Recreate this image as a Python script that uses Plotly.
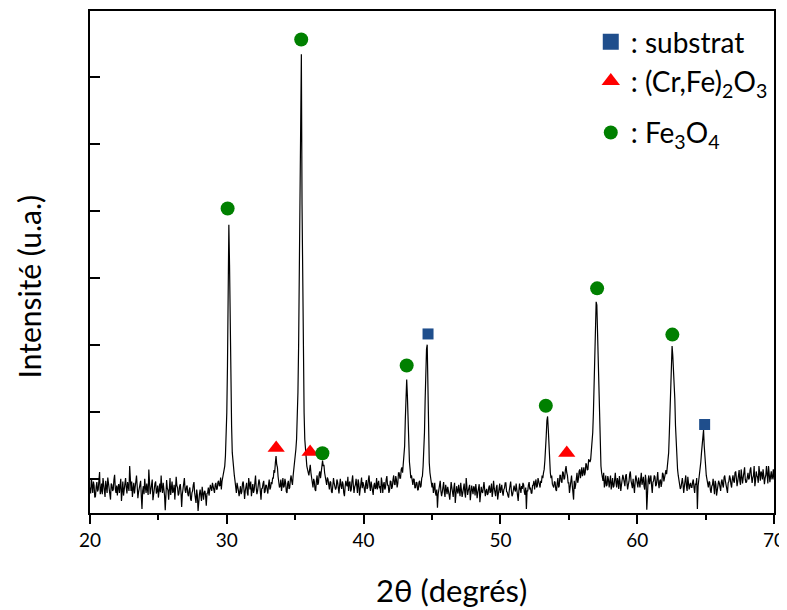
import plotly.graph_objects as go

# ---- data ----
two_theta_start = 20.0
two_theta_step = 0.05
intensity = [
    380, 290, 520, 410, 300, 470, 410, 230, 250, 390, 460, 320, 350, 480, 610, 280, 330, 440, 280, 520,
    450, 350, 240, 480, 390, 300, 530, 420, 310, 250, 200, 440, 420, 330, 350, 500, 570, 360, 300, 410,
    260, 380, 430, 300, 380, 510, 180, 330, 470, 260, 340, 450, 520, 380, 290, 460, 400, 330, 700, 420,
    330, 470, 240, 360, 450, 290, 380, 520, 560, 400, 220, 310, 370, 450, 480, 250, 60, 330, 400, 280,
    510, 380, 300, 440, 360, 270, 650, 420, 280, 350, 420, 500, 190, 300, 350, 440, 470, 290, 330, 410,
    230, 360, 440, 310, 560, 380, 300, 450, 380, 260, 40, 310, 490, 370, 340, 200, 410, 520, 270, 380,
    470, 300, 330, 420, 200, 360, 540, 410, 380, 260, 290, 400, 430, 310, 90, 280, 360, 450, 520, 340,
    300, 390, 410, 280, 250, 340, 380, 210, 180, 300, 330, 420, 460, 300, 220, 150, 350, 260, 30, 240,
    280, 350, 240, 180, 390, 300, 200, 310, 330, 250, 110, 290, 300, 380, 260, 340, 420, 370, 330, 450,
    380, 310, 300, 420, 450, 350, 360, 460, 480, 400, 410, 530, 350, 470, 520, 560, 600, 700, 850, 1100,
    1500, 2200, 3000, 4300, 3700, 2600, 1900, 1300, 900, 750, 620, 560, 480, 400, 300, 450, 410, 330, 250, 380,
    400, 280, 320, 440, 470, 360, 210, 330, 380, 450, 300, 260, 520, 390, 350, 470, 250, 340, 430, 300,
    340, 450, 560, 380, 280, 330, 390, 500, 450, 320, 200, 360, 370, 440, 480, 300, 320, 420, 410, 350,
    290, 420, 500, 350, 380, 460, 430, 520, 520, 640, 600, 750, 850, 720, 680, 540, 480, 380, 400, 500,
    330, 460, 520, 380, 400, 510, 450, 320, 300, 440, 480, 360, 380, 500, 560, 470, 420, 560, 650, 700,
    800, 950, 1100, 1400, 1800, 2500, 3500, 5000, 6500, 6840, 4600, 3200, 2100, 1500, 1100, 900, 800, 700, 650, 580,
    560, 640, 720, 600, 520, 430, 380, 510, 470, 350, 330, 480, 560, 420, 450, 580, 620, 520, 650, 720,
    780, 700, 720, 600, 560, 480, 420, 530, 500, 380, 350, 470, 460, 320, 300, 410, 520, 440, 400, 350,
    380, 500, 460, 350, 290, 420, 510, 400, 360, 470, 430, 300, 250, 390, 480, 420, 400, 540, 330, 450,
    470, 320, 350, 480, 560, 410, 300, 390, 420, 510, 380, 300, 500, 440, 260, 380, 440, 530, 370, 460,
    420, 350, 300, 440, 490, 360, 380, 500, 560, 400, 330, 470, 410, 300, 270, 410, 450, 360, 380, 520,
    350, 440, 480, 370, 400, 300, 530, 450, 300, 420, 460, 350, 380, 500, 550, 410, 420, 300, 340, 480,
    470, 360, 390, 500, 560, 430, 420, 550, 500, 380, 440, 600, 600, 520, 520, 650, 680, 600, 750, 850,
    1000, 1400, 1850, 1990, 1750, 1300, 900, 760, 650, 520, 560, 430, 420, 510, 500, 370, 380, 460, 450, 340,
    350, 460, 480, 380, 400, 520, 550, 700, 900, 1200, 1700, 2200, 2450, 2510, 1800, 1200, 750, 600, 500, 420,
    380, 450, 300, 360, 450, 300, 260, 350, 80, 280, 330, 420, 480, 330, 250, 310, 370, 460, 310, 240,
    420, 330, 280, 390, 350, 270, 200, 340, 460, 380, 310, 240, 380, 450, 150, 300, 400, 330, 290, 420,
    330, 250, 450, 360, 240, 300, 380, 440, 300, 230, 520, 370, 270, 330, 360, 420, 190, 300, 410, 340,
    280, 400, 370, 260, 430, 340, 220, 310, 350, 430, 160, 280, 390, 320, 300, 380, 460, 350, 250, 330,
    360, 270, 290, 380, 410, 300, 330, 440, 240, 320, 480, 370, 320, 250, 380, 420, 200, 310, 350, 440,
    300, 370, 420, 310, 260, 350, 370, 450, 450, 320, 310, 260, 230, 340, 390, 470, 340, 250, 280, 380,
    410, 350, 320, 440, 370, 290, 180, 330, 440, 360, 300, 400, 360, 450, 420, 310, 270, 380, 60, 330,
    330, 420, 460, 350, 380, 300, 290, 410, 420, 480, 350, 440, 500, 380, 400, 520, 470, 400, 380, 480,
    450, 560, 520, 600, 650, 780, 900, 1150, 1380, 1440, 1250, 950, 700, 600, 520, 560, 430, 380, 380, 470,
    460, 350, 330, 440, 520, 380, 400, 560, 560, 470, 450, 620, 600, 500, 520, 640, 700, 600, 560, 450,
    450, 300, 380, 500, 560, 420, 300, 200, 480, 360, 420, 540, 600, 450, 500, 620, 650, 520, 580, 680,
    550, 620, 680, 560, 600, 740, 720, 640, 650, 800, 780, 760, 800, 900, 1000, 1200, 1500, 1900, 2300, 2800,
    3150, 3100, 2700, 2200, 1600, 1200, 900, 700, 600, 520, 480, 600, 380, 450, 560, 400, 420, 550, 500, 380,
    440, 560, 350, 430, 520, 380, 400, 500, 600, 450, 380, 520, 470, 360, 550, 460, 330, 420, 480, 570,
    520, 430, 400, 550, 580, 460, 350, 420, 470, 580, 620, 480, 430, 370, 510, 440, 300, 460, 560, 500,
    450, 380, 530, 460, 380, 500, 600, 420, 460, 540, 400, 350, 570, 480, 50, 380, 490, 560, 430, 500,
    560, 410, 300, 460, 480, 560, 540, 400, 420, 510, 610, 450, 370, 480, 500, 390, 450, 600, 580, 470,
    520, 600, 640, 580, 700, 780, 900, 1200, 1550, 1900, 2200, 2490, 2350, 2150, 2100, 1700, 1300, 1000, 800, 650,
    560, 480, 450, 360, 380, 500, 520, 430, 300, 400, 470, 560, 400, 330, 540, 450, 350, 420, 450, 380,
    380, 460, 500, 380, 300, 440, 420, 520, 60, 400, 480, 560, 650, 760, 900, 1050, 1200, 1240, 1000, 800,
    650, 560, 500, 420, 380, 470, 460, 340, 300, 400, 420, 510, 350, 280, 480, 430, 260, 370, 400, 480,
    450, 380, 330, 460, 500, 420, 380, 530, 560, 470, 420, 340, 300, 450, 470, 560, 520, 430, 380, 500,
    560, 480, 450, 600, 620, 520, 400, 470, 530, 640, 480, 420, 650, 560, 440, 530, 580, 680, 500, 450,
    470, 560, 600, 500, 520, 640, 680, 550, 450, 520, 560, 700, 400, 480, 620, 560, 530, 450, 700, 600,
    480, 620, 590, 500, 650, 560, 430, 520, 560, 700, 500, 440, 700, 600, 460, 550, 620, 500, 540, 650,
    500,
]
two_theta = [round(two_theta_start + two_theta_step * i, 2) for i in range(len(intensity))]

substrat_x = [44.71, 64.93]
substrat_y = [2670, 1320]
crfe_x = [33.61, 36.09, 54.85]
crfe_y = [970, 910, 895]
fe3o4_x = [30.06, 35.44, 36.99, 43.15, 53.32, 57.07, 62.57]
fe3o4_y = [4540, 7060, 890, 2200, 1600, 3350, 2660]

phase_names = [": substrat", ": (Cr,Fe)<sub>2</sub>O<sub>3</sub>", ": Fe<sub>3</sub>O<sub>4</sub>"]
y_ticks = [500, 1500, 2500, 3500, 4500, 5500, 6500]
x_range = [20, 70]
y_range = [0, 7486]

FONT = "Lato"
C_SQ, C_TRI, C_CIR = "#1F4E8C", "#FF0000", "#008000"

fig = go.Figure()
fig.add_trace(go.Scatter(x=two_theta, y=intensity, mode="lines",
                         line=dict(color="black", width=1.2), showlegend=False,
                         hoverinfo="skip"))
# peak markers
fig.add_trace(go.Scatter(x=substrat_x, y=substrat_y, mode="markers", showlegend=False,
                         marker=dict(symbol="square", size=11, color=C_SQ)))
fig.add_trace(go.Scatter(x=crfe_x, y=crfe_y, mode="markers", showlegend=False,
                         marker=dict(symbol="triangle-up", size=15, color=C_TRI)))
fig.add_trace(go.Scatter(x=fe3o4_x, y=fe3o4_y, mode="markers", showlegend=False,
                         marker=dict(symbol="circle", size=14, color=C_CIR)))
# legend keys (legend-only entries)
fig.add_trace(go.Scatter(x=[None], y=[None], mode="markers", name=phase_names[0],
                         legendgroup="a", marker=dict(symbol="square", size=16, color=C_SQ)))
fig.add_trace(go.Scatter(x=[None], y=[None], mode="markers", name=phase_names[1],
                         legendgroup="a", marker=dict(symbol="triangle-up", size=16, color=C_TRI)))
fig.add_trace(go.Scatter(x=[None], y=[None], mode="markers", name=phase_names[2],
                         legendgroup="b", marker=dict(symbol="circle", size=14, color=C_CIR)))

OFF = 8  # page body offset
W, H = 787 - OFF, 610 - OFF
L, T = 89.5 - OFF, 9 - OFF
R = W - (774.5 - OFF)
B = H - (513 - OFF)
pw, ph = W - L - R, H - T - B

def px_x(p):
    return (p - OFF - L) / pw

def px_y(p):
    return (H - B - (p - OFF)) / ph

fig.update_layout(
    width=W, height=H,
    margin=dict(l=L, r=R, t=T, b=B, pad=0),
    plot_bgcolor="white", paper_bgcolor="white",
    font=dict(family=FONT, color="black"),
    xaxis=dict(range=x_range, showline=True, linecolor="black", linewidth=1.5,
               mirror=True, ticks="outside", ticklen=9, tickwidth=1.5,
               tickcolor="black", tick0=20, dtick=10, showgrid=False,
               zeroline=False, tickfont=dict(size=19, family=FONT, color="black"),
               ticklabeloverflow="allow",
               minor=dict(dtick=5, ticks="outside", ticklen=5, tickwidth=1.5,
                          tickcolor="black", showgrid=False)),
    yaxis=dict(range=y_range, showline=True, linecolor="black", linewidth=1.5,
               mirror=True, ticks="inside", ticklen=10, tickwidth=1.5,
               tickcolor="black", tickvals=y_ticks, showticklabels=False,
               showgrid=False, zeroline=False),
    legend=dict(x=px_x(591), y=px_y(15), xanchor="left", yanchor="top",
                bgcolor="rgba(0,0,0,0)", font=dict(size=28, family=FONT, color="black"),
                itemsizing="trace", traceorder="grouped", tracegroupgap=12),
    annotations=[
        dict(text="2θ (degrés)", xref="paper", yref="paper", x=px_x(452), y=px_y(590),
             xanchor="center", yanchor="middle", showarrow=False,
             font=dict(size=31, family=FONT, color="black")),
        dict(text="Intensité (u.a.)", xref="paper", yref="paper", x=px_x(28), y=px_y(286),
             xanchor="center", yanchor="middle", showarrow=False, textangle=-90,
             font=dict(size=30, family=FONT, color="black")),
    ],
)

fig.write_html("out.html")
